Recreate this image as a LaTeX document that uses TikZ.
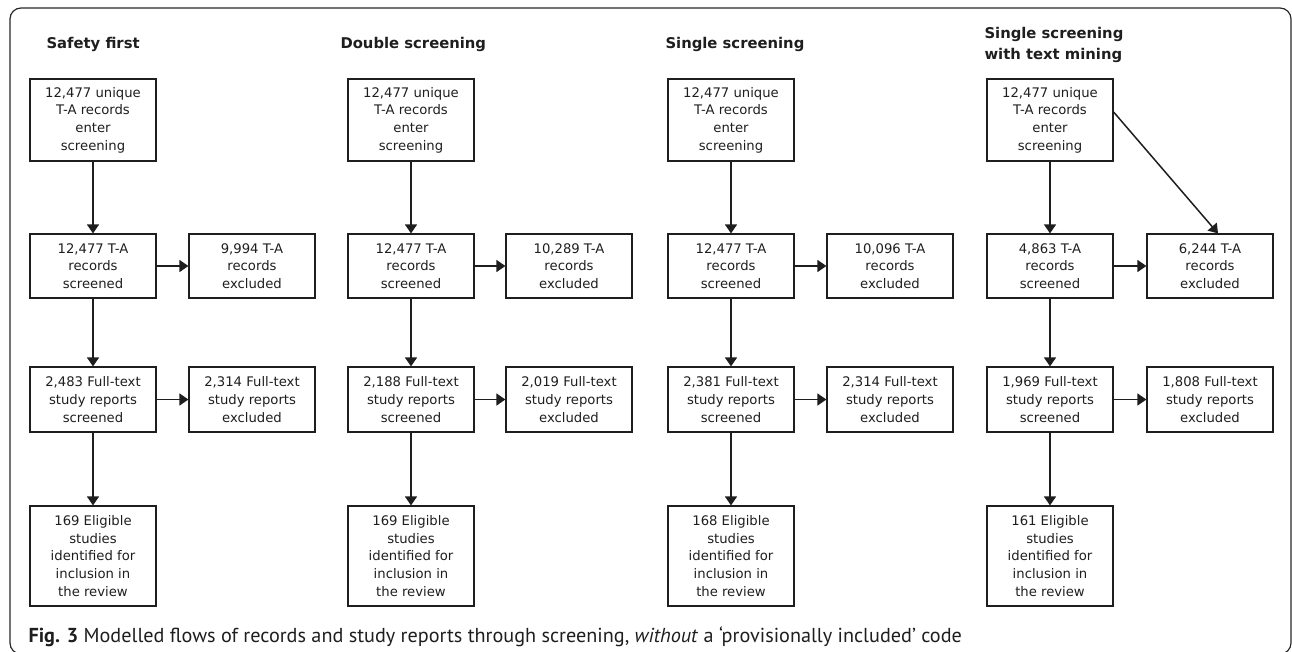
\documentclass[tikz,border=0pt]{standalone}
\usepackage{fontspec}
\setmainfont{DejaVu Sans}
\newfontfamily\capfont{PT Sans}
\usepackage{xcolor}
\usetikzlibrary{arrows.meta,calc}
\definecolor{framegray}{RGB}{40,40,40}
\definecolor{inkblack}{RGB}{30,30,30}

\begin{document}
\begin{tikzpicture}[x=1pt, y=-1pt,
    box/.style={rectangle, draw=inkblack, line width=1.2pt, minimum width=126pt, inner sep=0pt, align=center, text=inkblack, font=\fontsize{13.2}{17.7}\selectfont},
    title/.style={anchor=west, align=left, text=inkblack, font=\fontsize{14.8}{21}\selectfont\bfseries},
    arrow/.style={-{Triangle[width=12pt,length=9pt]}, line width=1.5pt, draw=inkblack}
]
\useasboundingbox (0,0) rectangle (1292,651);
\clip (0,0) rectangle (1292,651);
\draw[framegray, line width=1.2pt, rounded corners=11pt] (10,8) rectangle (1291,654);

% Safety first
\node[title] (s1) at (43,44) {Safety first};
\node[box, minimum height=82pt] (a1) at (93,120) {12,477 unique\\T-A records\\enter\\screening};
\node[box, minimum height=64pt] (b1) at (93,266) {12,477 T-A\\records\\screened};
\node[box, minimum height=64pt] (c1) at (252,266) {9,994 T-A\\records\\excluded};
\node[box, minimum height=65pt] (d1) at (93,399.5) {2,483 Full-text\\study reports\\screened};
\node[box, minimum height=65pt] (e1) at (252,399.5) {2,314 Full-text\\study reports\\excluded};
\node[box, minimum height=100pt] (f1) at (93,556) {169 Eligible\\studies\\identified for\\inclusion in\\the review};

% Double screening
\node[title] (s2) at (337,44) {Double screening};
\node[box, minimum height=82pt] (a2) at (411,120) {12,477 unique\\T-A records\\enter\\screening};
\node[box, minimum height=64pt] (b2) at (411,266) {12,477 T-A\\records\\screened};
\node[box, minimum height=64pt] (c2) at (569,266) {10,289 T-A\\records\\excluded};
\node[box, minimum height=65pt] (d2) at (411,399.5) {2,188 Full-text\\study reports\\screened};
\node[box, minimum height=65pt] (e2) at (569,399.5) {2,019 Full-text\\study reports\\excluded};
\node[box, minimum height=100pt] (f2) at (411,556) {169 Eligible\\studies\\identified for\\inclusion in\\the review};

% Single screening
\node[title] (s3) at (662,44) {Single screening};
\node[box, minimum height=82pt] (a3) at (731,120) {12,477 unique\\T-A records\\enter\\screening};
\node[box, minimum height=64pt] (b3) at (731,266) {12,477 T-A\\records\\screened};
\node[box, minimum height=64pt] (c3) at (890,266) {10,096 T-A\\records\\excluded};
\node[box, minimum height=65pt] (d3) at (731,399.5) {2,381 Full-text\\study reports\\screened};
\node[box, minimum height=65pt] (e3) at (890,399.5) {2,314 Full-text\\study reports\\excluded};
\node[box, minimum height=100pt] (f3) at (731,556) {168 Eligible\\studies\\identified for\\inclusion in\\the review};

% Single screening with text mining
\node[title] (s4) at (981,45) {Single screening\\with text mining};
\node[box, minimum height=82pt] (a4) at (1050,120) {12,477 unique\\T-A records\\enter\\screening};
\node[box, minimum height=64pt] (b4) at (1050,266) {4,863 T-A\\records\\screened};
\node[box, minimum height=64pt] (c4) at (1210,266) {6,244 T-A\\records\\excluded};
\node[box, minimum height=65pt] (d4) at (1050,399.5) {1,969 Full-text\\study reports\\screened};
\node[box, minimum height=65pt] (e4) at (1210,399.5) {1,808 Full-text\\study reports\\excluded};
\node[box, minimum height=100pt] (f4) at (1050,556) {161 Eligible\\studies\\identified for\\inclusion in\\the review};

\draw[arrow] (a1) -- (b1);
\draw[arrow] (b1) -- (c1);
\draw[arrow] (b1) -- (d1);
\draw[arrow] (d1) -- (e1);
\draw[arrow] (d1) -- (f1);

\draw[arrow] (a2) -- (b2);
\draw[arrow] (b2) -- (c2);
\draw[arrow] (b2) -- (d2);
\draw[arrow] (d2) -- (e2);
\draw[arrow] (d2) -- (f2);

\draw[arrow] (a3) -- (b3);
\draw[arrow] (b3) -- (c3);
\draw[arrow] (b3) -- (d3);
\draw[arrow] (d3) -- (e3);
\draw[arrow] (d3) -- (f3);

\draw[arrow] (a4) -- (b4);
\draw[arrow] ([yshift=8pt]a4.east) -- ([xshift=8pt]c4.north);
\draw[arrow] (b4) -- (c4);
\draw[arrow] (b4) -- (d4);
\draw[arrow] (d4) -- (e4);
\draw[arrow] (d4) -- (f4);

% caption
\node[anchor=base west, text=inkblack, font=\capfont\fontsize{20.2}{24}\selectfont] (cap) at (25,642) {\textbf{Fig. 3} Modelled flows of records and study reports through screening, \textit{without} a ‘provisionally included’ code};
\end{tikzpicture}
\end{document}
